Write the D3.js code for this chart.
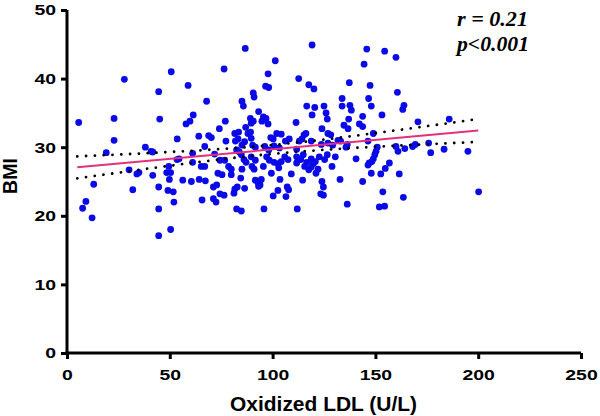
<!DOCTYPE html>
<html>
<head>
<meta charset="utf-8">
<script src="https://cdn.jsdelivr.net/npm/d3@7"></script>
<style>
  html, body { margin: 0; padding: 0; background: #ffffff; }
  svg { display: block; }
</style>
</head>
<body>
<svg id="chart" width="600" height="416"></svg>
<script>
// ---- Data ----
const oxLDL = [5.7,27.9,50.7,44.6,58.9,22.9,45.1,61.4,59.8,57.9,22.9,53.6,64.1,19.1,38.1,40.9,41.7,30.2,34.0,35.0,
  41.7,49.5,48.5,50.4,49.8,53.5,54.5,61.1,61.1,56.3,60.5,64.3,13.0,32.0,44.6,49.1,51.7,9.2,7.6,12.2,
  44.6,52.0,44.6,50.4,65.7,86.7,119.2,101.3,76.4,97.8,112.7,96.6,98.1,117.6,120.1,90.6,91.0,67.9,85.1,85.8,
  116.6,120.5,125.0,126.0,119.2,93.2,89.2,90.6,89.6,95.5,96.8,97.8,94.8,77.0,111.4,126.6,124.0,74.1,81.6,83.5,
  86.9,88.0,89.3,89.6,83.2,81.9,99.1,100.3,102.0,104.2,108.1,106.2,115.3,116.2,114.3,113.0,126.9,128.3,68.9,70.2,
  67.0,77.3,86.4,85.1,90.3,91.6,96.2,98.1,100.7,103.3,111.7,126.9,129.2,118.8,123.7,71.8,74.4,76.7,82.5,83.8,
  84.8,86.1,87.1,89.6,91.6,97.1,98.4,100.7,102.6,104.2,105.9,107.5,111.7,111.7,113.7,114.9,116.6,115.6,118.8,119.8,
  120.8,122.7,125.3,126.6,128.9,65.3,67.0,78.6,79.9,73.4,75.4,79.9,85.1,90.0,91.0,95.5,99.4,103.0,109.1,117.6,
  118.8,122.1,121.1,67.3,84.5,91.6,92.9,93.9,94.5,103.6,114.6,124.0,71.2,72.8,81.6,82.8,86.4,93.2,107.1,107.8,
  124.7,102.6,74.4,76.4,81.2,100.3,106.5,123.4,124.7,71.2,72.5,82.5,84.8,95.8,112.0,145.8,154.5,160.0,144.5,137.3,
  147.4,160.7,133.8,133.8,137.6,138.3,146.7,148.0,163.9,163.3,143.8,153.2,137.0,134.7,136.7,142.2,143.8,170.7,185.9,149.0,
  131.8,133.1,146.4,136.3,135.7,150.9,150.3,160.0,161.0,164.3,168.1,169.4,175.9,176.9,183.4,195.0,130.5,140.6,149.7,149.0,
  148.3,147.0,146.4,156.8,154.8,152.6,148.0,161.6,132.8,143.8,153.6,163.6,200.2,136.3,151.9,154.5];
const bmi = [33.6,39.9,41.0,38.1,39.0,34.2,34.1,34.7,33.8,33.4,31.0,31.2,31.6,29.2,30.0,29.4,29.3,26.7,26.1,26.3,
  25.9,27.2,26.3,26.3,25.3,28.2,28.3,27.8,29.1,25.2,25.0,25.3,24.6,23.8,24.2,23.7,23.5,22.1,21.1,19.7,
  21.0,22.0,17.1,18.0,22.3,44.4,44.9,42.6,41.4,40.7,40.0,38.9,38.7,39.1,38.5,37.9,37.3,36.7,36.7,36.0,
  36.0,35.8,36.0,35.0,34.7,35.2,34.2,33.8,33.5,34.4,34.2,33.4,33.8,33.8,33.6,34.1,32.7,32.7,32.0,32.2,
  32.9,32.0,32.2,31.3,31.2,30.9,31.4,31.2,32.0,31.9,31.2,30.9,31.8,32.0,31.2,30.9,32.0,31.8,31.7,31.4,
  30.1,30.9,30.8,30.3,30.3,30.0,30.1,29.6,30.2,29.9,29.7,30.6,30.3,30.9,30.4,29.0,28.1,28.1,29.6,29.3,
  28.9,28.2,27.8,28.6,28.1,28.6,28.1,27.8,27.6,27.9,28.6,28.2,28.6,27.7,28.2,28.9,27.8,27.2,28.3,27.6,
  27.9,28.6,28.2,28.9,27.2,27.2,27.2,27.2,26.8,26.2,26.0,26.0,26.8,27.2,26.8,27.2,26.2,27.0,26.1,26.7,
  27.1,26.8,26.2,25.1,25.5,25.2,24.8,24.5,25.3,25.3,25.2,25.0,24.2,24.5,23.9,24.2,24.0,24.3,24.2,23.8,
  24.2,23.7,23.2,23.0,23.3,22.9,22.8,23.2,23.0,22.5,22.0,21.0,20.7,21.0,21.0,44.3,44.0,43.1,42.1,39.4,
  39.0,38.0,37.1,36.0,36.1,35.4,37.1,36.0,36.1,35.5,34.5,34.7,34.1,33.2,32.7,33.4,33.0,33.7,34.1,32.0,
  31.0,30.9,30.9,30.4,30.0,30.0,29.4,30.1,29.4,29.8,30.1,30.4,30.6,29.2,29.7,29.4,28.6,28.3,28.9,28.3,
  27.9,27.7,27.4,27.7,26.9,26.1,26.2,26.1,25.3,25.0,23.5,22.7,23.5,21.7,21.3,21.4];

// Regression line and 95% confidence band
const fitX = [5, 25, 50, 75, 100, 125, 150, 175, 200];
const fitY = [27.06, 27.61, 28.30, 28.99, 29.68, 30.37, 31.06, 31.75, 32.44];
const bandUpper = [28.66, 28.93, 29.30, 29.74, 30.33, 31.12, 32.06, 33.07, 34.11];
const bandLower = [25.46, 26.29, 27.30, 28.24, 29.03, 29.62, 30.06, 30.43, 30.77];

const xTicks = [0, 50, 100, 150, 200, 250];
const yTicks = [0, 10, 20, 30, 40, 50];
const xTitle = "Oxidized LDL (U/L)";
const yTitle = "BMI";
const statLines = ["r = 0.21", "p<0.001"];

// ---- Drawing ----
const svg = d3.select("#chart");
const x = d3.scaleLinear().domain([0, 250]).range([67, 581]);
const y = d3.scaleLinear().domain([0, 50]).range([353, 10]);

const sans = "'Liberation Sans', Arial, Helvetica, sans-serif";

// points
svg.append("g")
  .selectAll("circle")
  .data(oxLDL.map((v, i) => [v, bmi[i]]))
  .join("circle")
  .attr("cx", d => x(d[0]))
  .attr("cy", d => y(d[1]))
  .attr("r", 3.4)
  .attr("fill", "#0a0ae8");

// confidence band (dotted)
const lineGen = d3.line().curve(d3.curveMonotoneX);
[bandUpper, bandLower].forEach(arr => {
  svg.append("path")
    .attr("d", lineGen(fitX.map((v, i) => [x(v), y(arr[i])])))
    .attr("fill", "none")
    .attr("stroke", "#000")
    .attr("stroke-width", 2.8)
    .attr("stroke-linecap", "round")
    .attr("stroke-dasharray", "0.01,8.8");
});

// regression line
svg.append("path")
  .attr("d", d3.line()([[x(fitX[0]), y(fitY[0])], [x(fitX[fitX.length - 1]), y(fitY[fitY.length - 1])]]))
  .attr("fill", "none")
  .attr("stroke", "#e2307e")
  .attr("stroke-width", 2);

// axes
const xAxis = svg.append("g")
  .attr("transform", "translate(0,353)")
  .call(d3.axisBottom(x).tickValues(xTicks).tickSize(6).tickSizeOuter(0).tickPadding(10).tickFormat(d3.format("d")));
const yAxis = svg.append("g")
  .attr("transform", "translate(67,0)")
  .call(d3.axisLeft(y).tickValues(yTicks).tickSize(6).tickSizeOuter(0).tickPadding(5).tickFormat(d3.format("d")));

[xAxis, yAxis].forEach(g => {
  g.select(".domain").attr("stroke", "#000").attr("stroke-width", 3);
  g.selectAll(".tick line").attr("stroke", "#000").attr("stroke-width", 3);
  g.selectAll(".tick text")
    .attr("fill", "#000")
    .style("font-family", sans)
    .style("font-weight", "bold")
    .style("font-size", "15.5px")
    .attr("textLength", function () { return this.textContent.length * 10.8; })
    .attr("lengthAdjust", "spacingAndGlyphs");
});
// extend x domain to meet the y axis corner
xAxis.select(".domain").attr("d", `M${x(0) - 1.5},0H${x(250)}`);
yAxis.select(".domain").attr("d", `M0,${y(50)}V${y(0) + 1.5}`);

// axis titles
svg.append("text")
  .attr("x", 323.5)
  .attr("y", 411)
  .attr("text-anchor", "middle")
  .attr("textLength", 187)
  .attr("lengthAdjust", "spacingAndGlyphs")
  .style("font-family", sans)
  .style("font-weight", "bold")
  .style("font-size", "19.5px")
  .attr("fill", "#000")
  .text(xTitle);

svg.append("text")
  .attr("transform", "translate(17,176) rotate(-90)")
  .attr("text-anchor", "middle")
  .style("font-family", sans)
  .style("font-weight", "bold")
  .style("font-size", "19.5px")
  .attr("fill", "#000")
  .text(yTitle);

// statistics
svg.selectAll(".stat")
  .data(statLines)
  .join("text")
  .attr("class", "stat")
  .attr("x", 457)
  .attr("y", (d, i) => 26 + i * 25)
  .attr("textLength", (d, i) => i === 0 ? 71 : 72)
  .attr("lengthAdjust", "spacingAndGlyphs")
  .style("font-family", "'Liberation Serif', 'Times New Roman', serif")
  .style("font-weight", "bold")
  .style("font-style", "italic")
  .style("font-size", "20px")
  .attr("fill", "#000")
  .text(d => d);
</script>
</body>
</html>
